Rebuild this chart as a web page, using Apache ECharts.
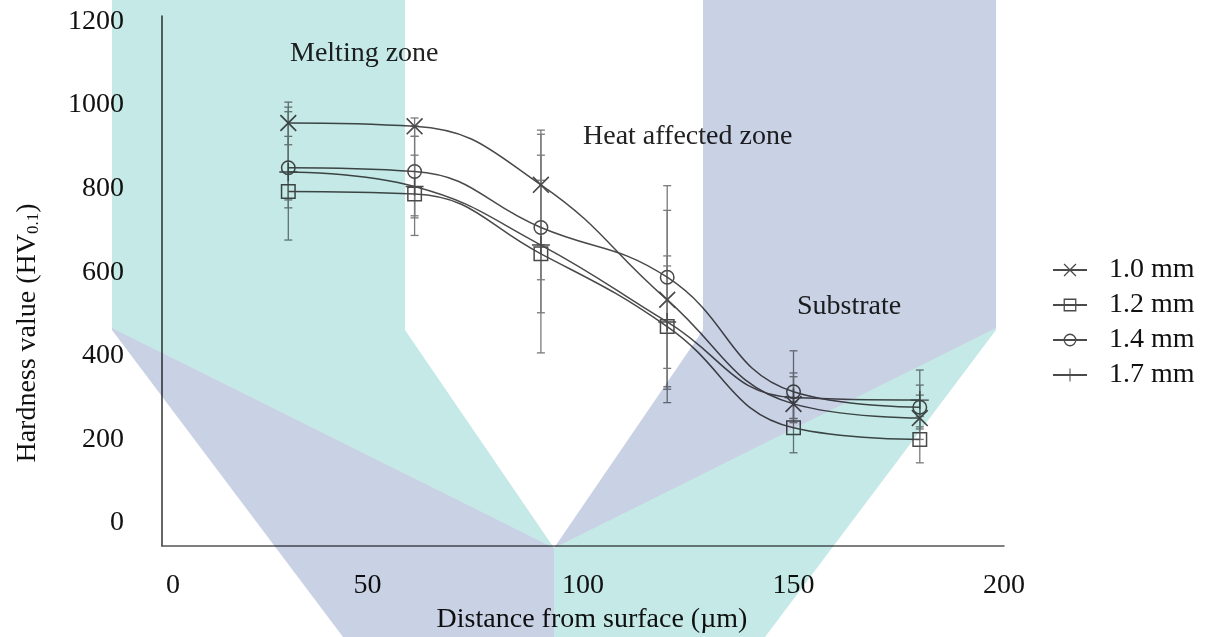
<!DOCTYPE html>
<html>
<head>
<meta charset="utf-8">
<script src="https://cdn.jsdelivr.net/npm/echarts@6/dist/echarts.min.js"></script>
<style>
  html, body { margin: 0; padding: 0; background: #fff; }
  #chart { width: 1210px; height: 637px; }
</style>
</head>
<body>
<div id="chart"></div>
<script>
// Microhardness profile across the laser-treated layer
const distances = [30, 60, 90, 120, 150, 180];           // µm from surface
const seriesNames = ['1.0 mm', '1.2 mm', '1.4 mm', '1.7 mm'];

const hv10 = [957, 949, 809, 534, 285, 251];
const hv12 = [793, 787, 644, 470, 228, 200];
const hv14 = [850, 841, 707, 588, 314, 277];
const hv17 = [840, 805, 665, 481, 300, 294];

// error bar limits (low / high) for each point
const hv10Low  = [905, 925, 666, 320, 240, 200];
const hv10High = [1007, 969, 940, 748, 359, 306];
const hv12Low  = [677, 688, 407, 326, 168, 144];
const hv12High = [925, 880, 880, 615, 290, 255];
const hv14Low  = [754, 735, 582, 370, 250, 230];
const hv14High = [984, 950, 930, 807, 412, 330];
const hv17Low  = [773, 730, 503, 288, 250, 225];
const hv17High = [995, 925, 820, 639, 350, 366];

const yTicks = [0, 200, 400, 600, 800, 1000, 1200];
const xTicks = [0, 50, 100, 150, 200];

const values = [hv10, hv12, hv14, hv17];
const lows = [hv10Low, hv12Low, hv14Low, hv17Low];
const highs = [hv10High, hv12High, hv14High, hv17High];

const SERIF = '"Liberation Serif", "DejaVu Serif", serif';
const LINE = '#4a4a4a';
const BAR = '#7a7a7a';

// marker outlines drawn as filled paths so the curve and bar show through
const SYM_CROSS = 'path://M0,0.07L0.07,0L0.5,0.43L0.93,0L1,0.07L0.57,0.5L1,0.93L0.93,1L0.5,0.57L0.07,1L0,0.93L0.43,0.5Z';
const SYM_SQUARE = 'path://M0,0H1V1H0Z M0.1,0.1V0.9H0.9V0.1Z';
const SYM_CIRCLE = 'path://M0.5,0A0.5,0.5,0,1,1,0.5,1A0.5,0.5,0,1,1,0.5,0Z M0.5,0.1A0.4,0.4,0,1,0,0.5,0.9A0.4,0.4,0,1,0,0.5,0.1Z';
const SYM_PLUS = 'path://M0.46,0H0.54V0.46H1V0.54H0.54V1H0.46V0.54H0V0.46H0.46Z';
const symbols = [SYM_CROSS, SYM_SQUARE, SYM_CIRCLE, SYM_PLUS];
const symbolSizes = [17, 15, 15, 18];

const series = [];
seriesNames.forEach(function (name, i) {
  series.push({
    name: name,
    type: 'line',
    smooth: 0.45,
    data: distances.map(function (d, k) { return [d, values[i][k]]; }),
    symbol: symbols[i],
    symbolSize: symbolSizes[i],
    showAllSymbol: true,
    lineStyle: { color: LINE, width: 1.5 },
    itemStyle: { color: LINE, borderWidth: 0 },
    z: 3
  });
  series.push({
    name: name + ' error',
    type: 'custom',
    data: distances.map(function (d, k) { return [d, lows[i][k], highs[i][k]]; }),
    z: 2,
    silent: true,
    renderItem: function (params, api) {
      const lo = api.coord([api.value(0), api.value(1)]);
      const hi = api.coord([api.value(0), api.value(2)]);
      const w = 4;
      const style = { stroke: BAR, lineWidth: 1.3, fill: null };
      return {
        type: 'group',
        children: [
          { type: 'line', shape: { x1: lo[0], y1: lo[1], x2: hi[0], y2: hi[1] }, style: style },
          { type: 'line', shape: { x1: lo[0] - w, y1: lo[1], x2: lo[0] + w, y2: lo[1] }, style: style },
          { type: 'line', shape: { x1: hi[0] - w, y1: hi[1], x2: hi[0] + w, y2: hi[1] }, style: style }
        ]
      };
    }
  });
});

// UMP emblem printed behind the figure (multiplied over the drawing)
const TEAL = '#c5e9e7';
const LAV = '#c9d1e5';
const emblem = [
  { fill: TEAL, pts: [[112, 0], [405, 0], [405, 330], [554, 548], [112, 328]] },
  { fill: LAV,  pts: [[996, 0], [703, 0], [703, 330], [554, 548], [996, 328]] },
  { fill: LAV,  pts: [[112, 328], [554, 548], [554, 637], [343, 637], [112, 330]] },
  { fill: TEAL, pts: [[996, 328], [554, 548], [554, 637], [765, 637], [996, 330]] }
];

const graphics = emblem.map(function (p) {
  return {
    type: 'polygon',
    silent: true,
    z: 50,
    shape: { points: p.pts },
    style: { fill: p.fill, blend: 'multiply' }
  };
});

function note(text, x, y) {
  return {
    type: 'text',
    x: x, y: y, z: 10, silent: true,
    style: { text: text, font: '28px ' + SERIF, fill: '#222', textVerticalAlign: 'middle' }
  };
}
graphics.push(note('Melting zone', 290, 54));
graphics.push(note('Heat affected zone', 583, 137));
graphics.push(note('Substrate', 797, 307));

const chart = echarts.init(document.getElementById('chart'), null, { renderer: 'canvas' });
chart.setOption({
  animation: false,
  backgroundColor: '#fff',
  textStyle: { fontFamily: SERIF },
  grid: { left: 162, right: 206, top: 16, bottom: 91, containLabel: false, outerBoundsMode: 'none' },
  legend: {
    data: seriesNames,
    orient: 'vertical',
    left: 1052,
    top: 256,
    padding: 0,
    itemWidth: 34,
    itemHeight: 16,
    itemGap: 7,
    textStyle: { fontSize: 28, fontFamily: SERIF, color: '#111', padding: [0, 0, 0, 17] }
  },
  xAxis: {
    type: 'value',
    min: 0,
    max: 200,
    interval: 50,
    name: 'Distance from surface (\u00b5m)',
    nameLocation: 'middle',
    nameGap: 60,
    nameTextStyle: { fontSize: 28, fontFamily: SERIF, color: '#111', padding: [0, 0, 0, 18] },
    axisLine: { show: true, onZero: false, lineStyle: { color: '#555', width: 1.5 } },
    axisTick: { show: false },
    splitLine: { show: false },
    axisLabel: {
      customValues: xTicks,
      showMinLabel: true,
      showMaxLabel: true,
      margin: 26,
      fontSize: 28,
      fontFamily: SERIF,
      color: '#111',
      formatter: function (v) {
        if (v === 0) return '{a|0}';
        if (v === 50) return '{b|50}';
        return String(v);
      },
      rich: {
        a: { fontSize: 28, fontFamily: SERIF, color: '#111', padding: [0, 0, 0, 22] },
        b: { fontSize: 28, fontFamily: SERIF, color: '#111', padding: [0, 10, 0, 0] }
      }
    }
  },
  yAxis: {
    type: 'value',
    min: -55,
    max: 1213,
    name: 'Hardness value (HV{s|0.1})',
    nameLocation: 'middle',
    nameRotate: 90,
    nameGap: 120,
    nameTextStyle: {
      fontSize: 28, fontFamily: SERIF, color: '#111',
      padding: [0, 104, 0, 0],
      rich: { s: { fontSize: 17, fontFamily: SERIF, color: '#111', verticalAlign: 'bottom', padding: [10, 0, 0, 0] } }
    },
    axisLine: { show: true, onZero: false, lineStyle: { color: '#333', width: 1.5 } },
    axisTick: { show: false },
    splitLine: { show: false },
    axisLabel: {
      customValues: yTicks,
      showMinLabel: true,
      showMaxLabel: true,
      margin: 38,
      fontSize: 28,
      fontFamily: SERIF,
      color: '#111',
      formatter: function (v) { return String(v); }
    }
  },
  graphic: graphics,
  series: series
});
</script>
</body>
</html>
